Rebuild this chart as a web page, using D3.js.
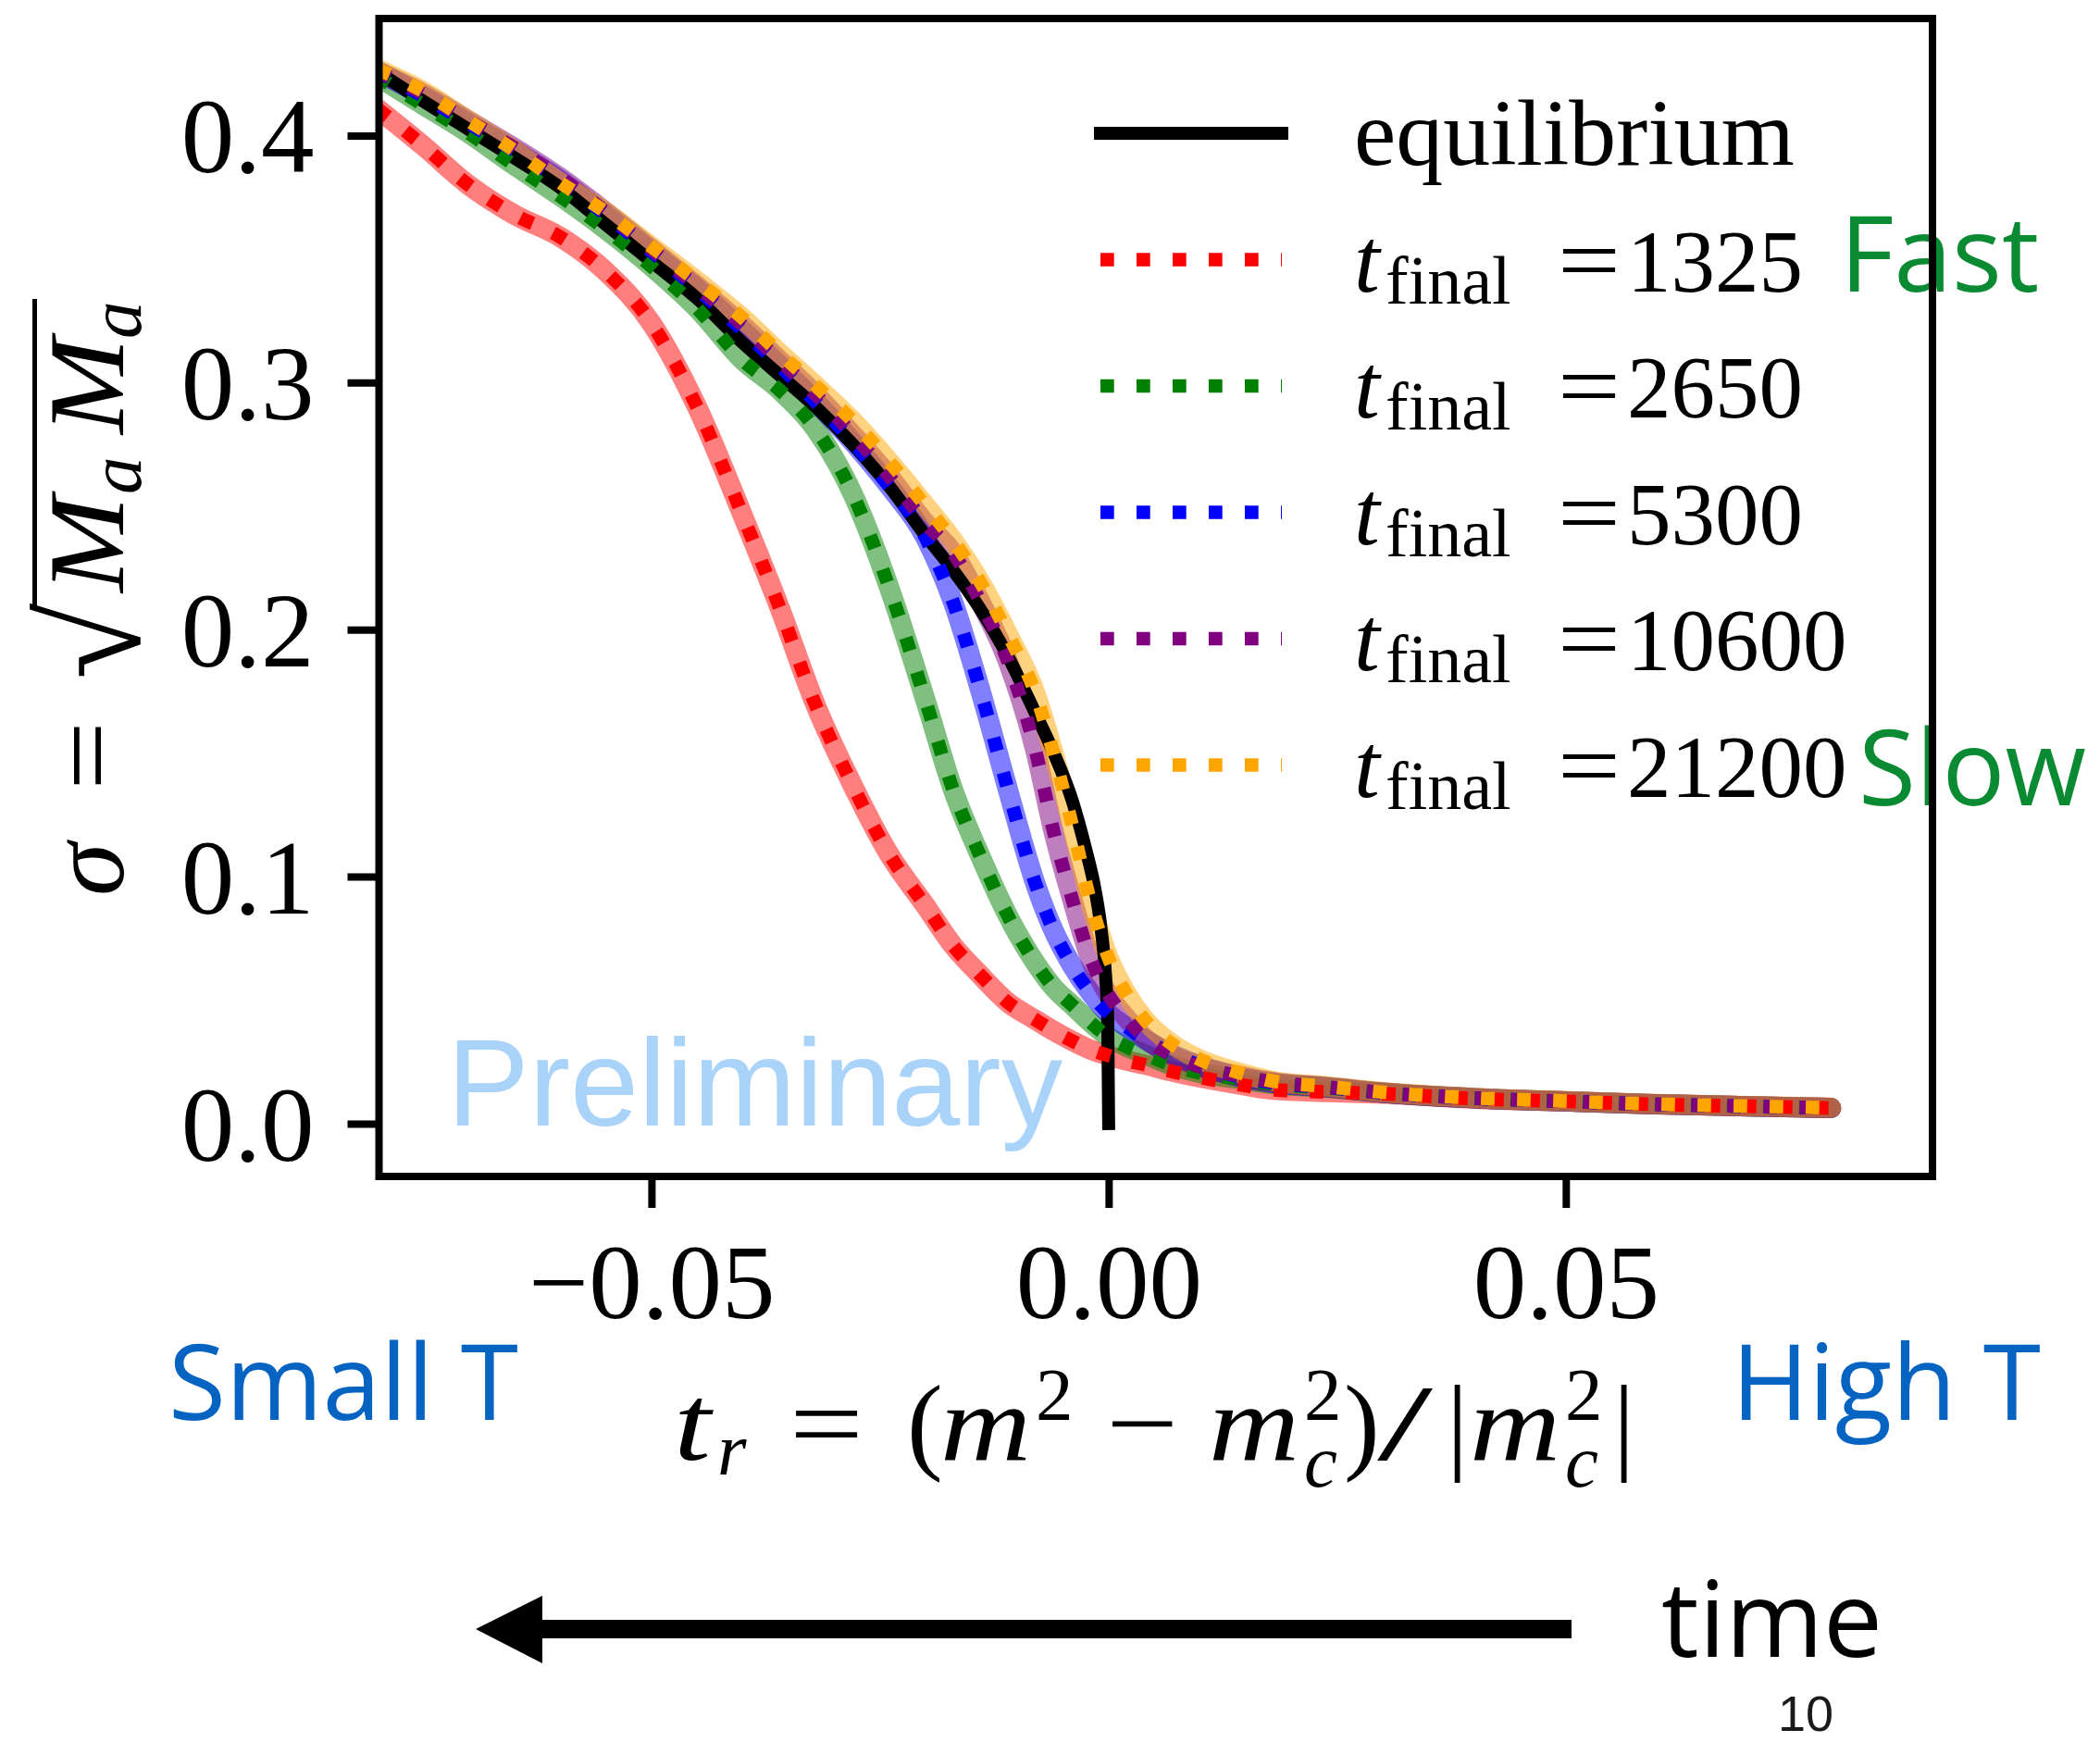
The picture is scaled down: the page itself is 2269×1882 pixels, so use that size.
<!DOCTYPE html>
<html>
<head>
<meta charset="utf-8">
<script src="https://cdn.jsdelivr.net/npm/d3@7"></script>
<style>
  body { margin: 0; background: #fff; }
  svg { display: block; }
  text { font-family: "Liberation Serif", serif; }
</style>
</head>
<body>
<svg id="svg" width="2269" height="1882"></svg>
<script>
// values
const xTicks = [-0.05, 0, 0.05];
const xTickLabels = ["\u22120.05", "0.00", "0.05"];
const yTicks = [0, 0.1, 0.2, 0.3, 0.4];
const yTickLabels = ["0.0", "0.1", "0.2", "0.3", "0.4"];

// equilibrium curve
const eqX = [-0.080, -0.075, -0.070, -0.065, -0.060, -0.055, -0.050, -0.045, -0.040, -0.036,
             -0.032, -0.028, -0.024, -0.020, -0.017, -0.014, -0.011, -0.008, -0.006, -0.004,
             -0.0025, -0.0015, -0.0008, -0.0003, -0.0001, 0];
const eqY = [0.426, 0.414, 0.4025, 0.391, 0.379, 0.364, 0.349, 0.334, 0.316, 0.303,
             0.290, 0.275, 0.258, 0.238, 0.224, 0.208, 0.189, 0.166, 0.150, 0.131,
             0.111, 0.095, 0.078, 0.058, 0.042, 0.000];

// quench runs, common x grid
const runX = [-0.080, -0.075, -0.070, -0.065, -0.060, -0.055, -0.050, -0.045, -0.040, -0.036,
              -0.032, -0.028, -0.024, -0.020, -0.017, -0.014, -0.011, -0.008, -0.006, -0.004,
              -0.002, 0.000, 0.002, 0.004, 0.007, 0.010, 0.014, 0.018, 0.024, 0.030,
              0.040, 0.050, 0.060, 0.070, 0.079];
const sigma1325 = [0.411, 0.396, 0.380, 0.368, 0.359, 0.345, 0.324, 0.290, 0.246, 0.209,
                   0.169, 0.137, 0.109, 0.088, 0.072, 0.060, 0.049, 0.042, 0.0375, 0.0335,
                   0.030, 0.0275, 0.0255, 0.0238, 0.021, 0.0187, 0.016, 0.0137, 0.0128, 0.0121,
                   0.0101, 0.0090, 0.0078, 0.0070, 0.0063];
const sigma2650 = [0.424, 0.4125, 0.401, 0.388, 0.3755, 0.362, 0.347, 0.330, 0.309, 0.297,
                   0.281, 0.255, 0.217, 0.171, 0.135, 0.108, 0.084, 0.065, 0.055, 0.048,
                   0.041, 0.035, 0.031, 0.028, 0.0235, 0.0205, 0.0182, 0.016, 0.0145, 0.0125,
                   0.0103, 0.0090, 0.0078, 0.0070, 0.0063];
const sigma5300 = [0.426, 0.416, 0.405, 0.394, 0.382, 0.368, 0.353, 0.338, 0.321, 0.307,
                   0.292, 0.276, 0.258, 0.237, 0.211, 0.175, 0.135, 0.097, 0.078, 0.064,
                   0.053, 0.0445, 0.039, 0.034, 0.028, 0.0235, 0.0192, 0.0165, 0.0147, 0.0125,
                   0.0103, 0.0090, 0.0078, 0.0070, 0.0063];
const sigma10600 = [0.426, 0.417, 0.406, 0.395, 0.383, 0.369, 0.354, 0.339, 0.323, 0.309,
                    0.295, 0.279, 0.262, 0.243, 0.231, 0.211, 0.187, 0.151, 0.118, 0.091,
                    0.067, 0.052, 0.0425, 0.0345, 0.0275, 0.023, 0.0195, 0.0168, 0.0148, 0.0125,
                    0.0103, 0.0090, 0.0078, 0.0070, 0.0063];
const sigma21200 = [0.427, 0.418, 0.406, 0.394, 0.381, 0.369, 0.355, 0.341, 0.326, 0.312,
                    0.2986, 0.2845, 0.268, 0.250, 0.236, 0.219, 0.198, 0.174, 0.1496, 0.121,
                    0.090, 0.067, 0.0523, 0.0418, 0.032, 0.0259, 0.0209, 0.0172, 0.015, 0.0127,
                    0.0104, 0.0091, 0.0079, 0.0071, 0.0064];

const runLabels = ["1325", "2650", "5300", "10600", "21200"];
const runColors = ["red", "green", "blue", "purple", "orange"];
const runValues = [sigma1325, sigma2650, sigma5300, sigma10600, sigma21200];

const svg = d3.select("#svg");
const frame = {left: 409.5, right: 2088, top: 20, bottom: 1271};

const xScale = d3.scaleLinear().domain([-0.0798, 0.0901]).range([frame.left, frame.right]);
const yScale = d3.scaleLinear().domain([-0.0214, 0.4474]).range([frame.bottom, frame.top]);

const line = d3.line()
    .x(d => xScale(d[0]))
    .y(d => yScale(d[1]))
    .curve(d3.curveMonotoneX);

svg.append("defs").append("clipPath").attr("id", "plot")
  .append("rect")
    .attr("x", frame.left).attr("y", frame.top)
    .attr("width", frame.right - frame.left).attr("height", frame.bottom - frame.top);

// overlay labels drawn under the frame
svg.append("text")
    .attr("x", 483).attr("y", 1216)
    .style("font-family", "'Liberation Sans', Arial, sans-serif")
    .style("font-size", "133px")
    .attr("fill", "#a9d3f9")
    .text("Preliminary");

const sans = "'Open Sans', 'Noto Sans', sans-serif";
svg.append("text").attr("x", 182).attr("y", 1534)
    .style("font-family", sans).style("font-size", "113px").attr("fill", "#0563c1").text("Small T");
svg.append("text").attr("x", 1871).attr("y", 1534)
    .style("font-family", sans).style("font-size", "113px").attr("fill", "#0563c1").text("High T");
svg.append("text").attr("x", 1988).attr("y", 315)
    .style("font-family", sans).style("font-size", "113px").attr("fill", "#0a8a32").text("Fast");
svg.append("text").attr("x", 2008).attr("y", 870)
    .style("font-family", sans).style("font-size", "113px").attr("fill", "#0a8a32").text("Slow");

// curves: translucent bands, then equilibrium, then dotted runs on top
const plot = svg.append("g").attr("clip-path", "url(#plot)");

runValues.forEach((vals, k) => {
    plot.append("path")
        .attr("d", line(runX.map((v, i) => [v, vals[i]])))
        .attr("fill", "none")
        .attr("stroke", runColors[k])
        .attr("stroke-opacity", 0.5)
        .attr("stroke-width", 22)
        .attr("stroke-linecap", "round")
        .attr("stroke-linejoin", "round");
});

plot.append("path")
    .attr("d", line(eqX.map((v, i) => [v, eqY[i]])))
    .attr("fill", "none")
    .attr("stroke", "black")
    .attr("stroke-width", 14)
    .attr("stroke-linecap", "square");

runValues.forEach((vals, k) => {
    plot.append("path")
        .attr("d", line(runX.map((v, i) => [v, vals[i]])))
        .attr("fill", "none")
        .attr("stroke", runColors[k])
        .attr("stroke-width", 14.7)
        .attr("stroke-dasharray", "14.7 24.3");
});

// axes
const xAxis = svg.append("g")
    .attr("transform", `translate(0,${frame.bottom})`)
    .call(d3.axisBottom(xScale).tickValues(xTicks).tickSize(34).tickPadding(37)
        .tickFormat((d, i) => xTickLabels[i]));
const yAxis = svg.append("g")
    .attr("transform", `translate(${frame.left},0)`)
    .call(d3.axisLeft(yScale).tickValues(yTicks).tickSize(34).tickPadding(36)
        .tickFormat((d, i) => yTickLabels[i]));

[xAxis, yAxis].forEach(g => {
    g.select(".domain").remove();
    g.selectAll(".tick line").attr("stroke", "black").attr("stroke-width", 8);
    g.selectAll(".tick text")
        .attr("fill", "black")
        .style("font-family", "'Liberation Serif', serif")
        .style("font-size", "115px");
});
yAxis.selectAll(".tick text").attr("dy", "0.34em");

svg.append("rect")
    .attr("x", frame.left).attr("y", frame.top)
    .attr("width", frame.right - frame.left).attr("height", frame.bottom - frame.top)
    .attr("fill", "none").attr("stroke", "black").attr("stroke-width", 8);

// legend
const legend = svg.append("g");
const rowY = i => 144 + i * 136.5;

legend.append("line")
    .attr("x1", 1189).attr("x2", 1385).attr("y1", rowY(0)).attr("y2", rowY(0))
    .attr("stroke", "black").attr("stroke-width", 14).attr("stroke-linecap", "square");
legend.append("text")
    .attr("x", 1463).attr("y", rowY(0) + 34)
    .style("font-size", "102px")
    .text("equilibrium");

runLabels.forEach((lab, k) => {
    const cy = rowY(k + 1);
    legend.append("line")
        .attr("x1", 1189).attr("x2", 1385).attr("y1", cy).attr("y2", cy)
        .attr("stroke", runColors[k]).attr("stroke-width", 14.7)
        .attr("stroke-dasharray", "14.7 24.3");
    const t = legend.append("text").attr("y", cy + 34).style("font-size", "100px");
    t.append("tspan").attr("x", 1463).style("font-style", "italic").text("t");
    t.append("tspan").attr("x", 1497).attr("y", cy + 47).style("font-size", "74px").text("final");
    t.append("tspan").attr("x", 1683).attr("y", cy + 34)
        .attr("textLength", 68).attr("lengthAdjust", "spacingAndGlyphs").text("=");
    t.append("tspan").attr("x", 1758).style("font-size", "95px").text(lab);
});

// y label: sigma = sqrt(M_a M_a), rotated
const yl = svg.append("g").attr("transform", "translate(133,966) rotate(-90)");
yl.append("text").attr("x", -2).attr("y", 0)
    .style("font-size", "116px").style("font-style", "italic").text("\u03c3");
yl.append("text").attr("x", 112).attr("y", 0)
    .style("font-size", "116px").attr("textLength", 75).attr("lengthAdjust", "spacingAndGlyphs").text("=");
yl.append("text").attr("x", 232).attr("y", 18)
    .style("font-size", "150px").text("\u221a");
yl.append("rect").attr("x", 312).attr("y", -98).attr("width", 331).attr("height", 5).attr("fill", "black");
const ma = yl.append("text").attr("y", 0).style("font-size", "116px").style("font-style", "italic");
ma.append("tspan").attr("x", 326).attr("textLength", 104).attr("lengthAdjust", "spacingAndGlyphs").text("M");
ma.append("tspan").attr("x", 432).attr("y", 19).style("font-size", "81px").text("a");
ma.append("tspan").attr("x", 497).attr("y", 0).attr("textLength", 104).attr("lengthAdjust", "spacingAndGlyphs").text("M");
ma.append("tspan").attr("x", 600).attr("y", 19).style("font-size", "81px").text("a");

// x label: t_r = (m^2 - m_c^2)/|m_c^2|
const xl = svg.append("text").style("font-size", "116px");
const piece = (s, x, y, opts = {}) => {
    const sp = xl.append("tspan").attr("x", x).attr("y", y).text(s);
    if (opts.it) sp.style("font-style", "italic");
    if (opts.small) sp.style("font-size", "81px");
    if (opts.len) sp.attr("textLength", opts.len).attr("lengthAdjust", "spacingAndGlyphs");
    return sp;
};
piece("t", 728, 1577, {it: true, len: 40});
piece("r", 775, 1593, {it: true, small: true});
piece("=", 853, 1577, {len: 80});
piece("(", 980, 1577);
piece("m", 1016, 1577, {it: true, len: 98});
piece("2", 1119, 1534, {small: true});
piece("\u2212", 1195, 1577, {len: 78});
piece("m", 1306, 1577, {it: true, len: 98});
piece("2", 1409, 1534, {small: true});
piece("c", 1409, 1606, {it: true, small: true});
piece(")", 1452, 1577);
piece("/", 1488, 1577, {len: 60});
piece("|", 1563, 1577);
piece("m", 1588, 1577, {it: true, len: 98});
piece("2", 1691, 1534, {small: true});
piece("c", 1691, 1606, {it: true, small: true});
piece("|", 1743, 1577);

// time arrow
svg.append("path")
    .attr("d", "M514,1760L586,1724L586,1750L1698,1750L1698,1770L586,1770L586,1797Z")
    .attr("fill", "black");
svg.append("text").attr("x", 1795).attr("y", 1790)
    .style("font-family", sans).style("font-size", "114px").attr("fill", "black").text("time");
svg.append("text").attr("x", 1921).attr("y", 1870)
    .style("font-family", "'Liberation Sans', Arial, sans-serif").style("font-size", "54px")
    .attr("fill", "#1a1a1a").text("10");
</script>
</body>
</html>
